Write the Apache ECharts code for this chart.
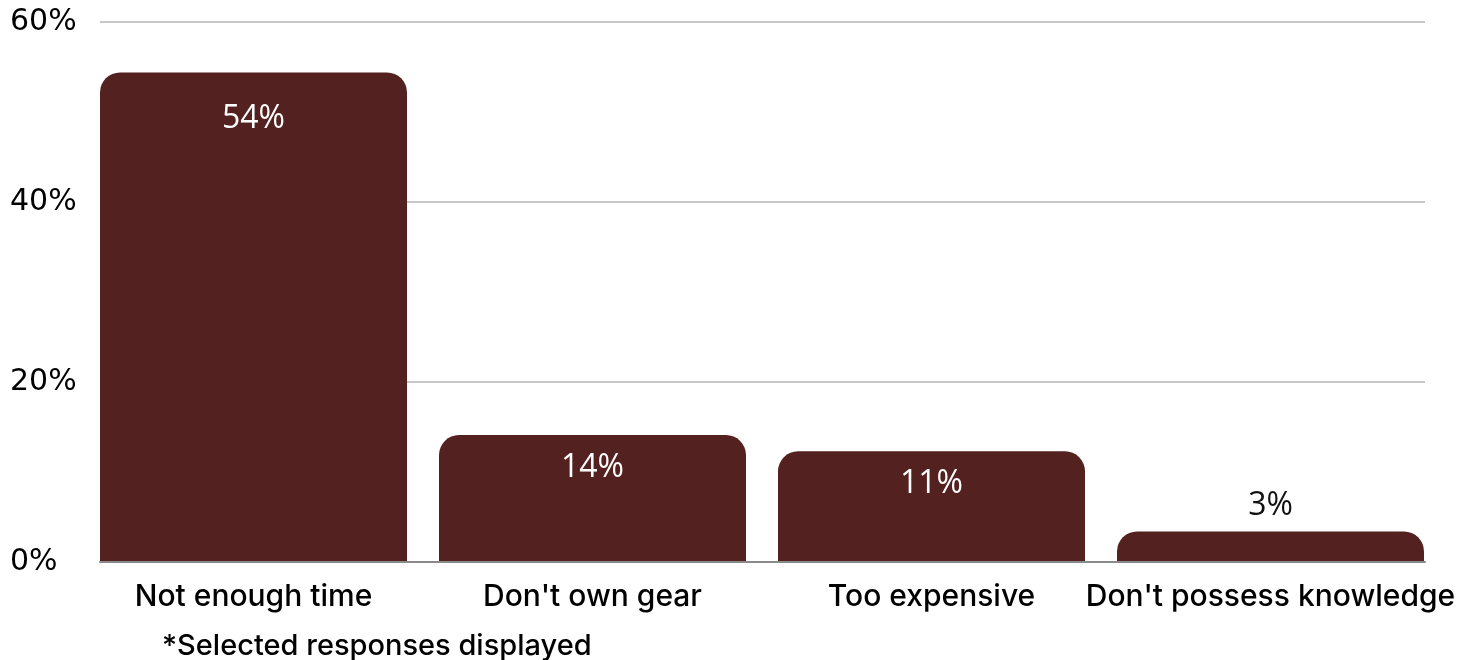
<!DOCTYPE html>
<html>
<head>
<meta charset="utf-8">
<script src="https://cdn.jsdelivr.net/npm/echarts@6/dist/echarts.min.js"></script>
<style>
html,body{margin:0;padding:0;background:#fff;}
#chart{width:1474px;height:660px;}
</style>
</head>
<body>
<div id="chart"></div>
<script>
const categories = ["Not enough time", "Don't own gear", "Too expensive", "Don't possess knowledge"];
const values = [54.4, 14.1, 12.3, 3.4];
const valueLabels = ["54%", "14%", "11%", "3%"];
const yTicks = [0, 20, 40, 60];
const footnote = "*Selected responses displayed";

const barColor = '#53211f';
const textFont = 'Inter';
const chart = echarts.init(document.getElementById('chart'));

const seriesData = values.map((v, i) => {
  const inside = v > 8;
  return {
    value: v,
    label: inside ? {
      position: 'insideTop',
      distance: i === 0 ? 30 : 17,
      color: '#ffffff'
    } : {
      position: 'top',
      distance: 10,
      color: '#111111'
    }
  };
});

chart.setOption({
  animation: false,
  backgroundColor: '#ffffff',
  title: {
    text: footnote,
    left: 157,
    top: 627,
    textStyle: { fontFamily: textFont, fontSize: 29, fontWeight: 500, color: '#000' }
  },
  grid: [
    { left: 84, right: 34, top: 22, bottom: 98 },
    { left: 100, right: 49, top: 22, bottom: 98 }
  ],
  xAxis: [
    {
      type: 'category', gridIndex: 0, data: categories,
      axisLine: { show: false }, axisTick: { show: false },
      axisLabel: { margin: 20, fontFamily: textFont, fontSize: 30, fontWeight: 500, color: '#000', interval: 0 }
    },
    {
      type: 'category', gridIndex: 1, data: categories, z: 5,
      axisLine: { show: true, lineStyle: { color: '#8a8a8a', width: 2 } },
      axisTick: { show: false }, axisLabel: { show: false }
    }
  ],
  yAxis: [
    {
      type: 'value', gridIndex: 0, min: 0, max: 60, interval: 20,
      show: false, splitLine: { show: false }
    },
    {
      type: 'value', gridIndex: 1, min: 0, max: 60, interval: 20,
      axisLine: { show: false }, axisTick: { show: false },
      splitLine: { show: true, lineStyle: { color: '#c8c8c8', width: 2 } },
      axisLabel: {
        align: 'left', margin: 90, fontFamily: 'DejaVu Sans', fontSize: 30, color: '#000',
        padding: [4, 0, 0, 0],
        formatter: v => yTicks.includes(v) ? v + '%' : ''
      }
    }
  ],
  series: [{
    type: 'bar',
    xAxisIndex: 0, yAxisIndex: 0,
    data: seriesData,
    barWidth: 307,
    itemStyle: { color: barColor, borderRadius: [20, 20, 0, 0] },
    label: {
      show: true,
      fontFamily: 'Open Sans',
      fontSize: 32,
      formatter: p => valueLabels[p.dataIndex]
    }
  }]
});
</script>
</body>
</html>
